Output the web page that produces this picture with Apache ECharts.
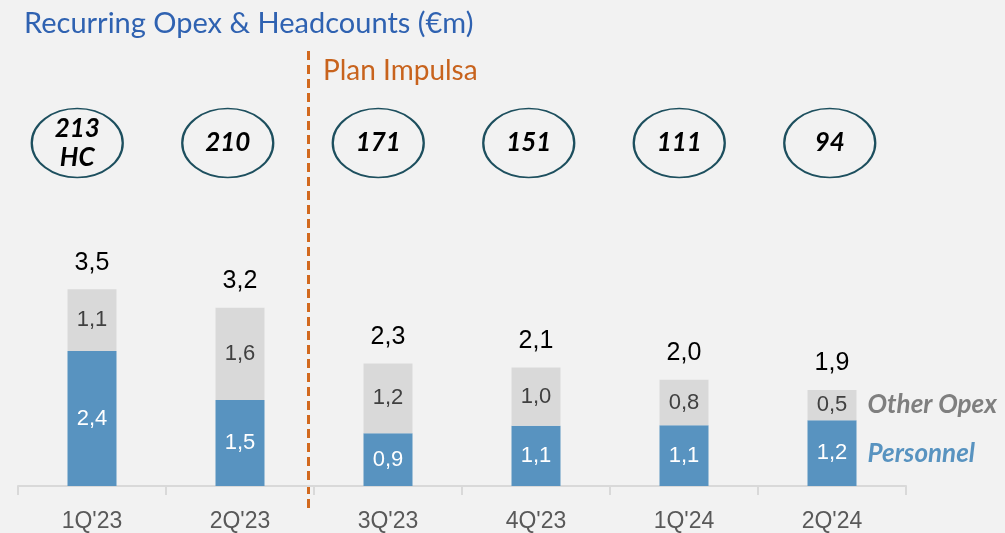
<!DOCTYPE html>
<html>
<head>
<meta charset="utf-8">
<script src="https://cdn.jsdelivr.net/npm/echarts@6/dist/echarts.min.js"></script>
<style>
  html, body { margin: 0; padding: 0; background: #f2f2f2; }
  #main { width: 1005px; height: 533px; }
</style>
</head>
<body>
<div id="main"></div>
<script>
// quarters on the x axis
var quarters = ["1Q'23", "2Q'23", "3Q'23", "4Q'23", "1Q'24", "2Q'24"];
// bar heights (€m)
var personnel = [2.4, 1.53, 0.94, 1.07, 1.08, 1.17];
var otherOpex = [1.1, 1.64, 1.24, 1.04, 0.81, 0.54];
// totals printed above the bars
var totals = ['3,5', '3,2', '2,3', '2,1', '2,0', '1,9'];
// headcount in the ellipses
var headcounts = ['213\nHC', '210', '171', '151', '111', '94'];

var chart = echarts.init(document.getElementById('main'));

function fmt(v) {
  return v.toFixed(1).replace('.', ',');
}

var numFont = 'Liberation Sans';
var latoFont = 'Lato';

var option = {
  backgroundColor: '#f2f2f2',
  animation: false,
  title: {
    text: 'Recurring Opex & Headcounts (€m)',
    left: 19,
    top: 4,
    textStyle: { fontFamily: latoFont, fontWeight: 'normal', fontSize: 29, color: '#2f62b1' }
  },
  grid: [
    { left: 18, right: 99, top: 205, bottom: 47 },       // bars
    { left: 2, width: 903, top: 108, height: 70 }         // headcount ellipses
  ],
  xAxis: [
    {
      type: 'category',
      gridIndex: 0,
      data: quarters,
      axisLine: { lineStyle: { color: '#d9d9d9', width: 2 } },
      axisTick: { show: true, length: 9, lineStyle: { color: '#d9d9d9', width: 2 } },
      axisLabel: { fontFamily: numFont, fontSize: 23, color: '#595959', margin: 24 }
    },
    {
      type: 'category',
      gridIndex: 1,
      data: quarters,
      show: false
    }
  ],
  yAxis: [
    { type: 'value', gridIndex: 0, min: 0, max: 5, show: false },
    { type: 'value', gridIndex: 1, min: 0, max: 1, show: false }
  ],
  series: [
    {
      name: 'Personnel',
      type: 'bar',
      stack: 'opex',
      barWidth: 49,
      data: personnel,
      itemStyle: { color: '#5893c0' },
      label: {
        show: true,
        position: 'inside',
        fontFamily: numFont,
        fontSize: 22,
        color: '#ffffff',
        formatter: function (p) { return fmt(p.value); }
      }
    },
    {
      name: 'Other Opex',
      type: 'bar',
      stack: 'opex',
      barWidth: 49,
      data: otherOpex,
      itemStyle: { color: '#d9d9d9' },
      label: {
        show: true,
        position: 'inside',
        fontFamily: numFont,
        fontSize: 22,
        color: '#404040',
        formatter: function (p) { return fmt(p.value); }
      }
    },
    {
      name: 'Total',
      type: 'bar',
      stack: 'opex',
      barWidth: 49,
      data: quarters.map(function () { return 0; }),
      itemStyle: { color: 'transparent' },
      label: {
        show: true,
        position: 'top',
        distance: 14,
        fontFamily: numFont,
        fontSize: 25,
        color: '#000000',
        formatter: function (p) { return totals[p.dataIndex]; }
      }
    },
    {
      name: 'Headcount',
      type: 'scatter',
      xAxisIndex: 1,
      yAxisIndex: 1,
      symbol: 'circle',
      symbolSize: [91, 69],
      data: quarters.map(function () { return 0.5; }),
      itemStyle: { color: 'transparent', borderColor: '#1d4f5e', borderWidth: 2, opacity: 1 },
      label: {
        show: true,
        position: 'inside',
        fontFamily: latoFont,
        fontStyle: 'italic',
        fontWeight: 'bold',
        fontSize: 26,
        lineHeight: 29,
        color: '#000000',
        formatter: function (p) { return headcounts[p.dataIndex]; }
      }
    }
  ]
};

chart.setOption(option);

// side labels next to the last bar, plan divider
var last = quarters.length - 1;
var pPers = chart.convertToPixel({ gridIndex: 0 }, [last, personnel[last] / 2]);
var pOther = chart.convertToPixel({ gridIndex: 0 }, [last, personnel[last] + otherOpex[last] / 2]);
var sideX = pPers[0] + 24.5 + 11;

chart.setOption({
  graphic: [
    {
      type: 'line',
      shape: { x1: 308.5, y1: 51, x2: 308.5, y2: 510 },
      style: { stroke: '#d2691e', lineWidth: 3, lineDash: [9, 5] }
    },
    {
      type: 'text',
      left: 323,
      top: 57,
      style: { text: 'Plan Impulsa', fill: '#c8631d', font: '28px Lato' }
    },
    {
      type: 'text',
      x: sideX,
      y: pOther[1],
      style: {
        text: 'Other Opex', fill: '#7f7f7f', font: 'italic bold 26px Lato',
        textVerticalAlign: 'middle', verticalAlign: 'middle'
      }
    },
    {
      type: 'text',
      x: sideX,
      y: pPers[1],
      style: {
        text: 'Personnel', fill: '#5893c0', font: 'italic bold 26px Lato',
        textVerticalAlign: 'middle', verticalAlign: 'middle'
      }
    }
  ]
});
</script>
</body>
</html>
